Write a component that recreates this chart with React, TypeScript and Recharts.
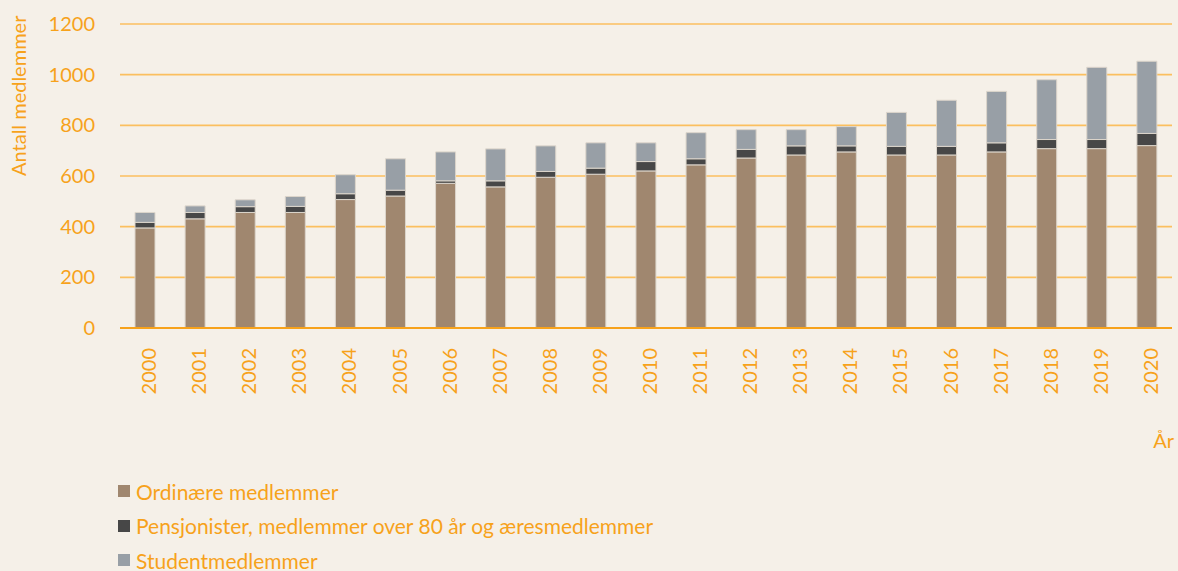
import { Bar, BarChart, CartesianGrid, Legend, XAxis, YAxis } from "recharts";

const years = [
  "2000", "2001", "2002", "2003", "2004", "2005", "2006", "2007", "2008", "2009", "2010",
  "2011", "2012", "2013", "2014", "2015", "2016", "2017", "2018", "2019", "2020",
];
const ordinaere = [395, 431, 456, 456, 507, 521, 571, 557, 595, 607, 620, 644, 671, 683, 695, 683, 683, 695, 708, 708, 720];
const pensjonister = [22, 25, 23, 24, 23, 23, 10, 24, 23, 24, 37, 24, 34, 36, 24, 34, 34, 36, 36, 36, 48];
const studenter = [39, 26, 27, 39, 75, 124, 114, 126, 101, 100, 74, 103, 78, 64, 76, 134, 182, 203, 236, 285, 285];
const yTicks = [0, 200, 400, 600, 800, 1000, 1200];

const ORANGE = "#f7a21b";
const GRID = "#fbbf5f";
const BG = "#f5f0e8";

const series = [
  { key: "ord", name: "Ordinære medlemmer", color: "#a0876f" },
  { key: "pens", name: "Pensjonister, medlemmer over 80 år og æresmedlemmer", color: "#474747" },
  { key: "stud", name: "Studentmedlemmer", color: "#989fa6" },
];

const data = years.map((year, i) => ({
  year,
  ord: ordinaere[i],
  pens: pensjonister[i],
  stud: studenter[i],
}));

function YearTick(props: any) {
  const { x, y, payload } = props;
  const tx = x + 3;
  return (
    <text
      x={tx}
      y={y}
      transform={`rotate(-90, ${tx}, ${y})`}
      textAnchor="end"
      dominantBaseline="central"
      fill={ORANGE}
      fontSize={20}
    >
      {payload.value}
    </text>
  );
}

function LegendBox() {
  return (
    <div style={{ height: 125, paddingLeft: 118, paddingTop: 28, boxSizing: "border-box" }}>
      {series.map((s) => (
        <div
          key={s.key}
          style={{ display: "flex", alignItems: "center", height: 34.5, color: ORANGE, fontSize: 21 }}
        >
          <span style={{ width: 12, height: 12, background: s.color, marginRight: 6, display: "inline-block" }} />
          {s.name}
        </div>
      ))}
    </div>
  );
}

export default function App() {
  return (
    <div
      style={{
        position: "absolute",
        left: 0,
        top: 0,
        width: 1178,
        height: 571,
        background: BG,
        fontFamily: "Lato, 'Noto Sans', sans-serif",
      }}
    >
      <BarChart
        width={1178}
        height={571}
        data={data}
        margin={{ top: 24, right: 6, left: 0, bottom: 0 }}
        barCategoryGap="60%"
      >
        <CartesianGrid vertical={false} stroke={GRID} strokeWidth={1.6} />
        <XAxis
          dataKey="year"
          height={118}
          tick={<YearTick />}
          tickLine={false}
          tickSize={0}
          tickMargin={20}
          interval={0}
          axisLine={{ stroke: ORANGE, strokeWidth: 2 }}
          label={{ value: "År", position: "insideBottomRight", offset: -2, fill: ORANGE, fontSize: 20 }}
        />
        <YAxis
          width={120}
          domain={[0, 1200]}
          ticks={yTicks}
          axisLine={false}
          tickLine={false}
          tickSize={0}
          tickMargin={25}
          tick={{ fill: ORANGE, fontSize: 20 }}
          label={{
            value: "Antall medlemmer",
            angle: -90,
            position: "insideLeft",
            offset: 19,
            fill: ORANGE,
            fontSize: 20,
          }}
        />
        <Legend verticalAlign="bottom" align="left" content={<LegendBox />} />
        {series.map((s) => (
          <Bar
            key={s.key}
            dataKey={s.key}
            name={s.name}
            stackId="a"
            fill={s.color}
            stroke="#dcd5cb"
            strokeWidth={1}
            barSize={20}
            isAnimationActive={false}
          />
        ))}
      </BarChart>
    </div>
  );
}
